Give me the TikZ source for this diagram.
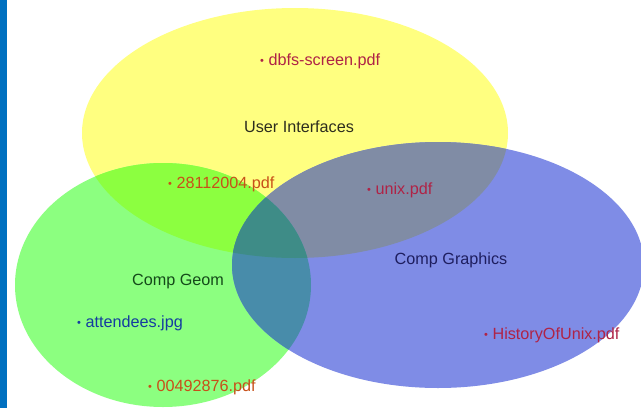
\documentclass[tikz,border=0pt]{standalone}
\usepackage{fontspec}
\setmainfont{Liberation Sans}
\definecolor{barblue}{RGB}{0,112,192}
\definecolor{cyellow}{RGB}{255,255,128}
\definecolor{cgreen}{RGB}{140,255,128}
\definecolor{cblue}{RGB}{127,140,230}
\definecolor{cyg}{RGB}{140,255,64}
\definecolor{cyb}{RGB}{128,140,165}
\definecolor{cgb}{RGB}{72,140,170}
\definecolor{cygb}{RGB}{62,140,135}
\definecolor{tred}{RGB}{175,35,70}
\definecolor{torange}{RGB}{200,80,25}
\definecolor{tdark}{RGB}{45,45,30}
\definecolor{tnavy}{RGB}{30,30,95}
\definecolor{tgreen}{RGB}{20,75,25}
\definecolor{tblue}{RGB}{20,60,160}
\newcommand{\vennY}{(295,133) ellipse [x radius=213pt, y radius=125pt]}
\newcommand{\vennG}{(163,285) ellipse [x radius=148pt, y radius=122pt]}
\newcommand{\vennB}{(438,265) ellipse [x radius=206pt, y radius=123pt]}
\newcommand{\dotm}{{\fontsize{11}{11}\selectfont\raisebox{0.3pt}{•}}\ }
\begin{document}
\begin{tikzpicture}[x=1pt,y=-1pt,
  lbl/.style={inner sep=0pt,font=\fontsize{16.2}{17}\selectfont,text height=11.5pt,text depth=3.4pt},
  item/.style={lbl,anchor=west},
  cat/.style={lbl,anchor=center}]
\useasboundingbox (0,0) rectangle (641,408);
\fill[white] (0,0) rectangle (641,408);
\fill[barblue] (0,0) rectangle (7,408);
% base sets
\fill[cyellow] \vennY;
\fill[cgreen] \vennG;
\fill[cblue] \vennB;
% pairwise overlaps
\begin{scope}
  \clip \vennY;
  \fill[cyg] \vennG;
  \fill[cyb] \vennB;
\end{scope}
\begin{scope}
  \clip \vennG;
  \fill[cgb] \vennB;
  \clip \vennB;
  \fill[cygb] \vennY;
\end{scope}
% labels
\node[cat,text=tdark] (ui) at (299,128) {User Interfaces};
\node[cat,text=tnavy] (cg) at (451,260) {Comp Graphics};
\node[cat,text=tgreen] (geom) at (178,281) {Comp Geom};
\node[item,text=tred] (dbfs) at (260,61) {\dotm dbfs-screen.pdf};
\node[item,text=torange] (f281) at (168,184) {\dotm 28112004.pdf};
\node[item,text=tred] (unix) at (367,190) {\dotm unix.pdf};
\node[item,text=tblue] (att) at (77,323) {\dotm attendees.jpg};
\node[item,text=tred] (hist) at (484,335) {\dotm HistoryOfUnix.pdf};
\node[item,text=torange] (f004) at (148,387) {\dotm 00492876.pdf};
\end{tikzpicture}
\end{document}
